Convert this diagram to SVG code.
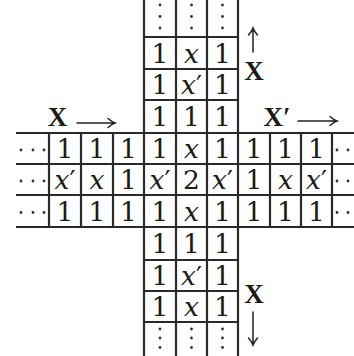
<svg xmlns="http://www.w3.org/2000/svg" width="354" height="356" viewBox="0 0 354 356">
<style>
.g{stroke:#2a2a2a;stroke-width:2.2;fill:none}
.c{font-family:"DejaVu Serif","Liberation Serif",serif;font-size:26.5px;fill:#1a1a1a;text-anchor:middle}
.i{font-style:italic}
.L{font-family:"Liberation Serif","DejaVu Serif",serif;font-size:27px;font-weight:bold;fill:#1a1a1a;text-anchor:middle}
.a{stroke:#222;stroke-width:1.5;fill:none;stroke-linecap:round}
.d{fill:#333}
</style>
<rect width="354" height="356" fill="#fff"/>
<g id="grid" class="g">
<path d="M144 0V356M176 0V356M207 0V356M238 0V356"/>
<path d="M144 37H238M144 69H238M144 100H238M144 260H238M144 291H238M144 322H238"/>
<path d="M16 133H354M16 164H354M16 195H354M16 227H354"/>
<path d="M49 133V227M81 133V227M113 133V227M270 133V227M301 133V227M332 133V227"/>
</g>
<g id="dots" class="d">
<circle cx="21" cy="150" r="1.4"/><circle cx="33" cy="150" r="1.4"/><circle cx="44" cy="150" r="1.4"/>
<circle cx="21" cy="181" r="1.4"/><circle cx="33" cy="181" r="1.4"/><circle cx="44" cy="181" r="1.4"/>
<circle cx="21" cy="212.5" r="1.4"/><circle cx="33" cy="212.5" r="1.4"/><circle cx="44" cy="212.5" r="1.4"/>
<circle cx="337" cy="150" r="1.4"/><circle cx="348" cy="150" r="1.4"/>
<circle cx="337" cy="181" r="1.4"/><circle cx="348" cy="181" r="1.4"/>
<circle cx="337" cy="212.5" r="1.4"/><circle cx="348" cy="212.5" r="1.4"/>
<circle cx="160" cy="5" r="1.4"/><circle cx="160" cy="16.5" r="1.4"/><circle cx="160" cy="28" r="1.4"/>
<circle cx="191.5" cy="5" r="1.4"/><circle cx="191.5" cy="16.5" r="1.4"/><circle cx="191.5" cy="28" r="1.4"/>
<circle cx="222.5" cy="5" r="1.4"/><circle cx="222.5" cy="16.5" r="1.4"/><circle cx="222.5" cy="28" r="1.4"/>
<circle cx="160" cy="329" r="1.4"/><circle cx="160" cy="338" r="1.4"/><circle cx="160" cy="347.5" r="1.4"/>
<circle cx="191.5" cy="329" r="1.4"/><circle cx="191.5" cy="338" r="1.4"/><circle cx="191.5" cy="347.5" r="1.4"/>
<circle cx="222.5" cy="329" r="1.4"/><circle cx="222.5" cy="338" r="1.4"/><circle cx="222.5" cy="347.5" r="1.4"/>
</g>
<g id="column-top">
<text class="c" x="160" y="62.6">1</text><text class="c i" x="191.5" y="62.6">x</text><text class="c" x="222.5" y="62.6">1</text>
<text class="c" x="160" y="94.1">1</text><text class="c" x="191.5" y="94.1"><tspan class="i">x</tspan>′</text><text class="c" x="222.5" y="94.1">1</text>
<text class="c" x="160" y="126.1">1</text><text class="c" x="191.5" y="126.1">1</text><text class="c" x="222.5" y="126.1">1</text>
</g>
<g id="row-1">
<text class="c" x="65" y="158">1</text><text class="c" x="97" y="158">1</text><text class="c" x="128.5" y="158">1</text><text class="c" x="160" y="158">1</text><text class="c i" x="191.5" y="158">x</text><text class="c" x="222.5" y="158">1</text><text class="c" x="254" y="158">1</text><text class="c" x="285.5" y="158">1</text><text class="c" x="316.5" y="158">1</text>
</g>
<g id="row-2">
<text class="c" x="65" y="189"><tspan class="i">x</tspan>′</text><text class="c i" x="97" y="189">x</text><text class="c" x="128.5" y="189">1</text><text class="c" x="160" y="189"><tspan class="i">x</tspan>′</text><text class="c" x="191.5" y="189">2</text><text class="c" x="222.5" y="189"><tspan class="i">x</tspan>′</text><text class="c" x="254" y="189">1</text><text class="c i" x="285.5" y="189">x</text><text class="c" x="316.5" y="189"><tspan class="i">x</tspan>′</text>
</g>
<g id="row-3">
<text class="c" x="65" y="220.6">1</text><text class="c" x="97" y="220.6">1</text><text class="c" x="128.5" y="220.6">1</text><text class="c" x="160" y="220.6">1</text><text class="c i" x="191.5" y="220.6">x</text><text class="c" x="222.5" y="220.6">1</text><text class="c" x="254" y="220.6">1</text><text class="c" x="285.5" y="220.6">1</text><text class="c" x="316.5" y="220.6">1</text>
</g>
<g id="column-bottom">
<text class="c" x="160" y="253.1">1</text><text class="c" x="191.5" y="253.1">1</text><text class="c" x="222.5" y="253.1">1</text>
<text class="c" x="160" y="285.1">1</text><text class="c" x="191.5" y="285.1"><tspan class="i">x</tspan>′</text><text class="c" x="222.5" y="285.1">1</text>
<text class="c" x="160" y="316.1">1</text><text class="c i" x="191.5" y="316.1">x</text><text class="c" x="222.5" y="316.1">1</text>
</g>
<g id="label-left">
<text class="L" x="57.5" y="125.5">X</text>
<path class="a" d="M77 123H115M108 118.5Q112 122 115 123Q112 124 108 127.5"/>
</g>
<g id="label-right">
<text class="L" x="277" y="125.5">X′</text>
<path class="a" d="M298 121H337M330 116.5Q334 120 337 121Q334 122 330 125.5"/>
</g>
<g id="label-top">
<path class="a" d="M253 52V28M248.5 35Q252 31 253 28Q254 31 257.5 35"/>
<text class="L" x="254" y="80">X</text>
</g>
<g id="label-bottom">
<text class="L" x="254" y="302.5">X</text>
<path class="a" d="M253 312V345M248.5 338Q252 342 253 345Q254 342 257.5 338"/>
</g>
</svg>
